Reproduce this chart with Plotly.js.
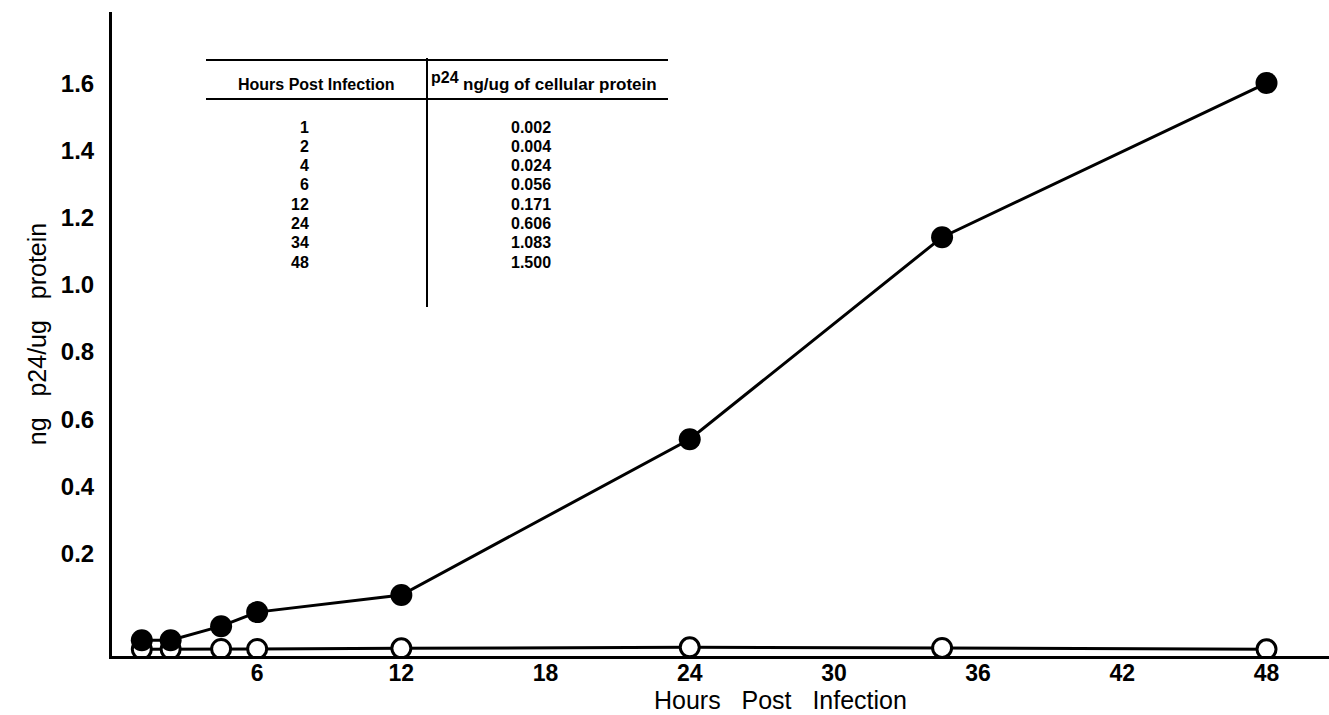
<!DOCTYPE html>
<html>
<head>
<meta charset="utf-8">
<script src="https://cdn.plot.ly/plotly-3.0.1.min.js"></script>
<style>html,body{margin:0;padding:0;background:#fff;}#chart{width:1329px;height:715px;}</style>
</head>
<body>
<div id="chart"></div>
<script>
// ---- data ----
var hours = [1.2, 2.4, 4.5, 6, 12, 24, 34.5, 48];
var infected = [-0.06, -0.06, -0.018, 0.024, 0.075, 0.54, 1.143, 1.603];
var control = [-0.087, -0.087, -0.086, -0.086, -0.084, -0.081, -0.083, -0.087];
var xTickVals = [6, 12, 18, 24, 30, 36, 42, 48];
var yTickVals = [0.2, 0.4, 0.6, 0.8, 1.0, 1.2, 1.4, 1.6];
var yTickText = ['0.2', '0.4', '0.6', '0.8', '1.0', '1.2', '1.4', '1.6'];
var tableHours = ['1', '2', '4', '6', '12', '24', '34', '48'];
var tableP24 = ['0.002', '0.004', '0.024', '0.056', '0.171', '0.606', '1.083', '1.500'];

// ---- layout helpers (pixel -> paper) ----
var W = 1329, H = 715;
var M = {l: 112, r: 0, t: 12, b: 59};
var PW = W - M.l - M.r, PH = H - M.t - M.b;
function px(x) { return (x - M.l) / PW; }
function py(y) { return (H - M.b - y) / PH; }

var FONT = 'Liberation Sans, Arial, Helvetica, sans-serif';
var sp = '\u00a0\u00a0\u00a0';

var traces = [
  {
    x: hours, y: control, mode: 'lines+markers', type: 'scatter',
    line: {color: '#000', width: 3},
    marker: {size: 19, color: '#fff', line: {color: '#000', width: 3}},
    hoverinfo: 'x+y', showlegend: false
  },
  {
    x: hours, y: infected, mode: 'lines+markers', type: 'scatter',
    line: {color: '#000', width: 3},
    marker: {size: 22, color: '#000', line: {color: '#000', width: 0}},
    hoverinfo: 'x+y', showlegend: false
  }
];

var TF = {family: FONT, size: 16, color: '#000', weight: 'bold'};
var annotations = [];
// table header
annotations.push({xref: 'paper', yref: 'paper', x: px(316), y: py(84), text: 'Hours Post Infection',
  showarrow: false, xanchor: 'center', yanchor: 'middle', font: TF});
annotations.push({xref: 'paper', yref: 'paper', x: px(429), y: py(77), text: 'p24',
  showarrow: false, xanchor: 'left', yanchor: 'middle', font: TF});
annotations.push({xref: 'paper', yref: 'paper', x: px(461), y: py(84), text: 'ng/ug of cellular protein',
  showarrow: false, xanchor: 'left', yanchor: 'middle', font: {family: FONT, size: 17, color: '#000', weight: 'bold'}});
// table rows
for (var i = 0; i < tableHours.length; i++) {
  var yy = 127 + i * 19.3;
  annotations.push({xref: 'paper', yref: 'paper', x: px(311), y: py(yy), text: tableHours[i],
    showarrow: false, xanchor: 'right', yanchor: 'middle', font: TF});
  annotations.push({xref: 'paper', yref: 'paper', x: px(531), y: py(yy), text: tableP24[i],
    showarrow: false, xanchor: 'center', yanchor: 'middle', font: TF});
}
// x axis title
annotations.push({xref: 'paper', yref: 'paper', x: px(780), y: py(700),
  text: 'Hours' + sp + 'Post' + sp + 'Infection',
  showarrow: false, xanchor: 'center', yanchor: 'middle', font: {family: FONT, size: 25, color: '#000'}});

var shapes = [
  {type: 'line', xref: 'paper', yref: 'paper', x0: px(206), x1: px(668), y0: py(60), y1: py(60), line: {color: '#000', width: 2}},
  {type: 'line', xref: 'paper', yref: 'paper', x0: px(206), x1: px(668), y0: py(99), y1: py(99), line: {color: '#000', width: 2}},
  {type: 'line', xref: 'paper', yref: 'paper', x0: px(427), x1: px(427), y0: py(58), y1: py(307), line: {color: '#000', width: 2}}
];

var layout = {
  width: W, height: H,
  margin: M,
  paper_bgcolor: '#fff', plot_bgcolor: '#fff',
  showlegend: false,
  font: {family: FONT, color: '#000'},
  xaxis: {
    range: [-0.04, 50.6], tickvals: xTickVals, ticks: '', showgrid: false, zeroline: false,
    showline: true, linecolor: '#000', linewidth: 3,
    tickfont: {family: FONT, size: 23, color: '#000', weight: 'bold'}, ticklabelstandoff: -6,
    fixedrange: true
  },
  yaxis: {
    range: [-0.107, 1.815], tickvals: yTickVals, ticktext: yTickText, ticks: '', showgrid: false, zeroline: false,
    showline: true, linecolor: '#000', linewidth: 3,
    tickfont: {family: FONT, size: 24, color: '#000', weight: 'bold'}, ticklabelstandoff: 10,
    title: {text: 'ng' + sp + 'p24/ug' + sp + 'protein', font: {family: FONT, size: 25, color: '#000'}, standoff: 8},
    fixedrange: true
  },
  annotations: annotations,
  shapes: shapes
};

Plotly.newPlot('chart', traces, layout, {displayModeBar: false, staticPlot: true});
</script>
</body>
</html>
